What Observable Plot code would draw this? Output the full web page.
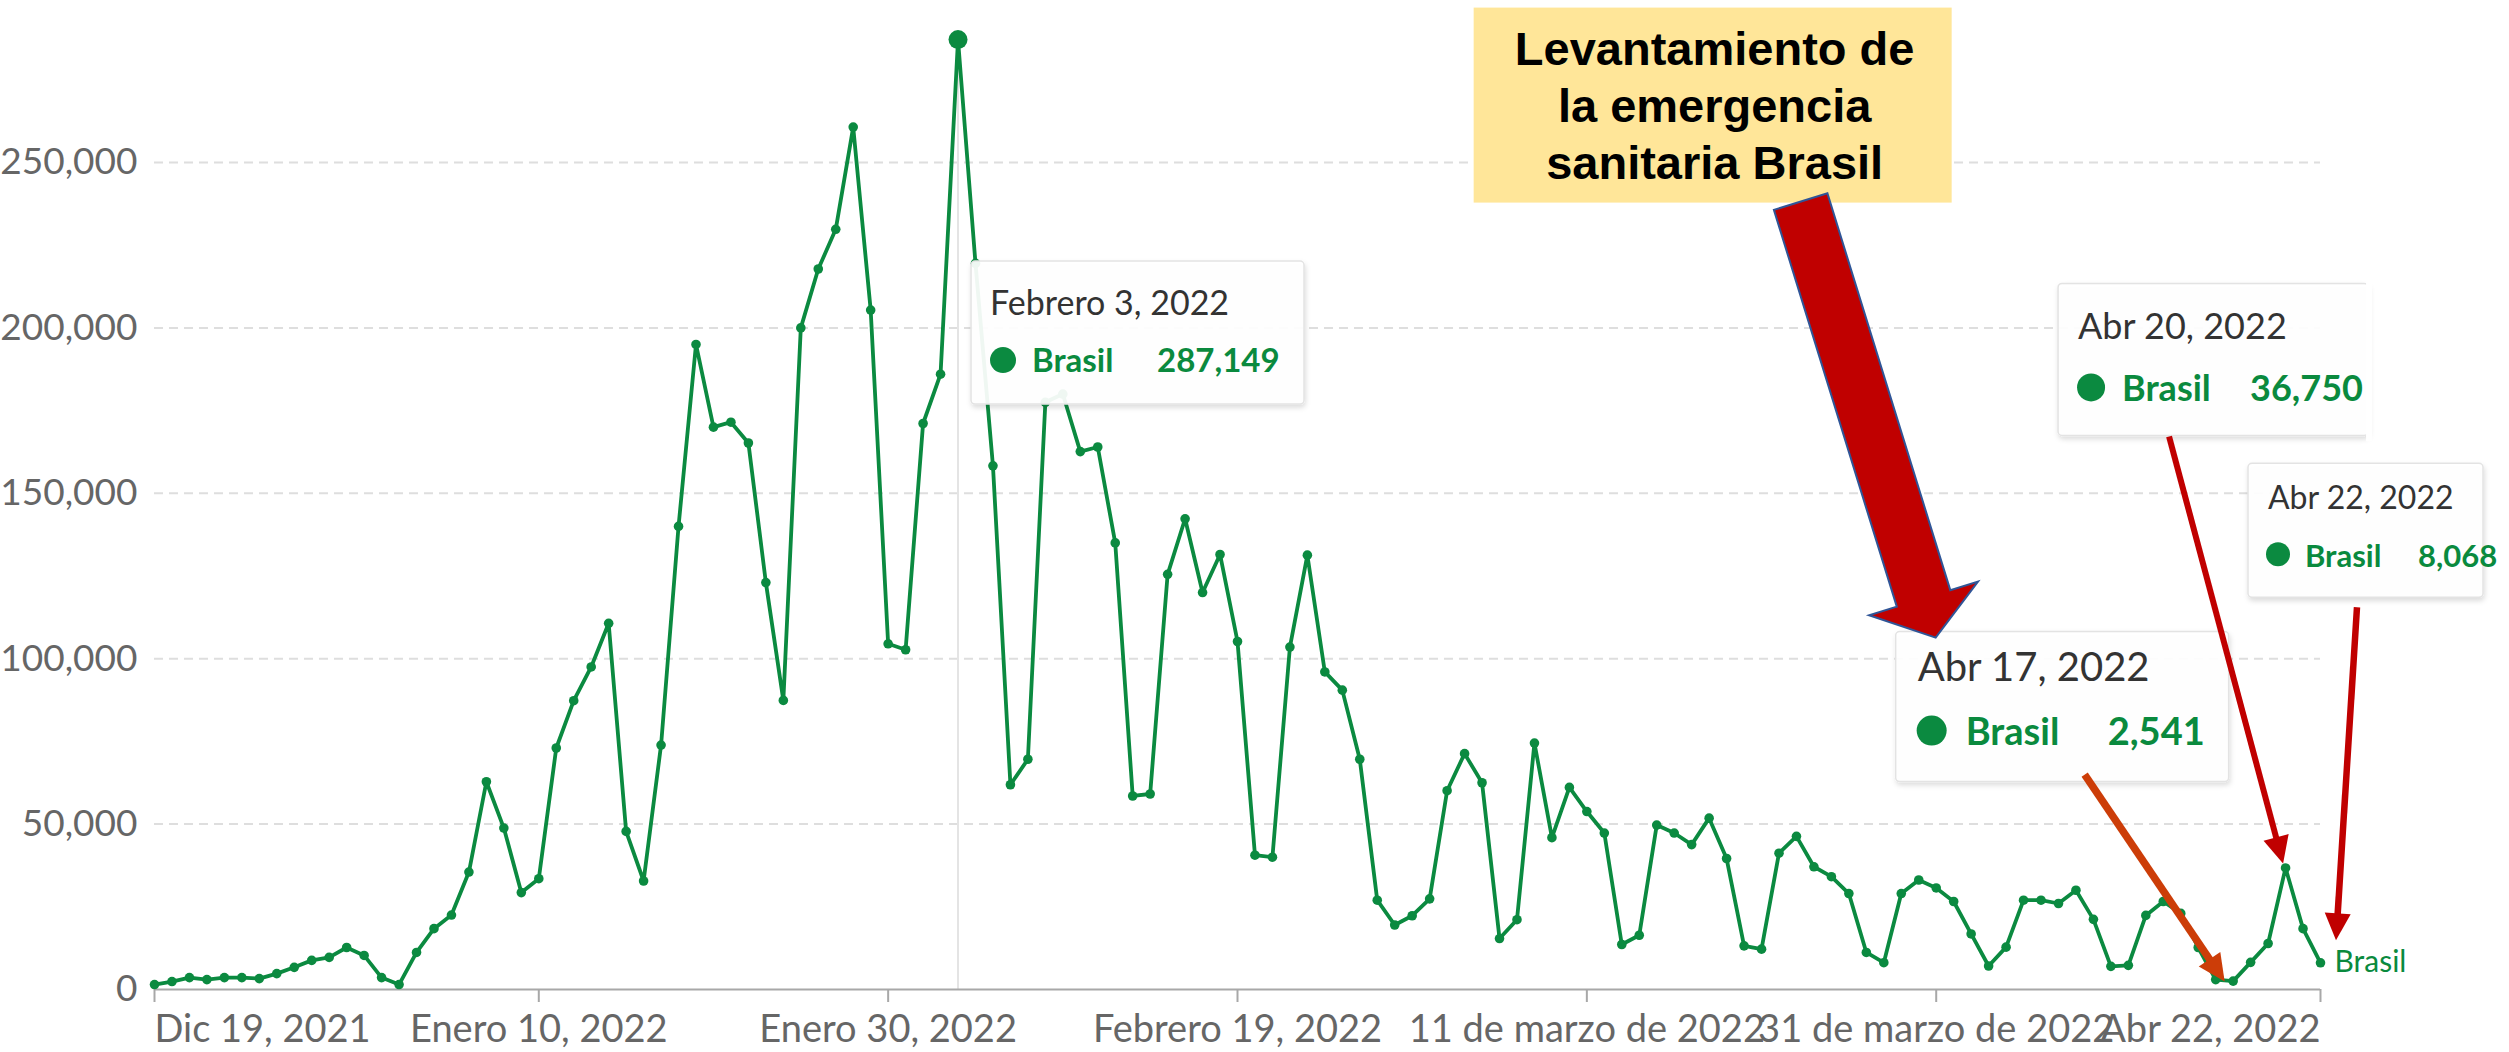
<!DOCTYPE html>
<html>
<head>
<meta charset="utf-8">
<script src="https://cdn.jsdelivr.net/npm/d3@7"></script>
<script src="https://cdn.jsdelivr.net/npm/@observablehq/plot@0.6"></script>
<style>
  html, body { margin: 0; padding: 0; background: #fff; }
  #chart { width: 2509px; height: 1052px; overflow: hidden; }
</style>
</head>
<body>
<div id="chart"></div>
<script>
// ---------- DATA ----------
const startDate = "2021-12-19";
const seriesName = "Brasil";
// Daily new cases, Brasil, Dec 19 2021 -> Apr 22 2022
const cases = [
  1500, 2400, 3600, 3000, 3600, 3600, 3300, 4800, 6700, 8800,
  9700, 12700, 10300, 3600, 1500, 11200, 18400, 22500, 35500, 62800,
  48800, 29300, 33500, 73000, 87300, 97500, 110700, 47800, 32800, 73900,
  140000, 195000, 170000, 171500, 165200, 123000, 87400, 200000, 217800, 229800,
  260700, 205400, 104500, 102700, 171100, 186000, 287149, 219500, 158300, 61900,
  69600, 177500, 180000, 162600, 164000, 135000, 58500, 59100, 125500, 142300,
  120000, 131500, 105200, 40600, 40000, 103500, 131300, 96000, 90500, 69600,
  27000, 19500, 22300, 27400, 60100, 71300, 62500, 15400, 21100, 74500,
  45900, 61100, 53800, 47300, 13600, 16400, 49700, 47300, 43800, 51800,
  39600, 13200, 12200, 41200, 46300, 37100, 34100, 29000, 11200, 8100,
  29000, 33100, 30700, 26600, 16800, 7100, 12800, 27000, 27000, 26000,
  30000, 21200, 7000, 7300, 22400, 26600, 23000, 12700, 3000, 2541,
  8200, 13900, 36750, 18400, 8068
];
const xTickDates = ["2021-12-19", "2022-01-10", "2022-01-30", "2022-02-19", "2022-03-11", "2022-03-31", "2022-04-22"];
const xTickLabels = ["Dic 19, 2021", "Enero 10, 2022", "Enero 30, 2022", "Febrero 19, 2022", "11 de marzo de 2022", "31 de marzo de 2022", "Abr 22, 2022"];
const yTicks = [0, 50000, 100000, 150000, 200000, 250000];
const tooltipDates = ["2022-02-03", "2022-04-17", "2022-04-20", "2022-04-22"];
const tooltipTitles = ["Febrero 3, 2022", "Abr 17, 2022", "Abr 20, 2022", "Abr 22, 2022"];
const calloutLines = ["Levantamiento de", "la emergencia", "sanitaria Brasil"];

// ---------- BUILD ----------
const day0 = new Date(startDate);
const data = cases.map((v, i) => ({date: d3.utcDay.offset(day0, i), value: v}));
const byTime = new Map(data.map(d => [+d.date, d]));
const ticks = xTickDates.map((s, i) => ({date: new Date(s), label: xTickLabels[i]}));
const fmt = d3.format(",");
const green = "#0b8a40";
const textGreen = "#0a8a3e";
const peak = byTime.get(+new Date(tooltipDates[0]));
const last = data[data.length - 1];

const W = 2509, H = 1052, mL = 154, mR = 189, mT = 0, mB = 63;

const chart = Plot.plot({
  width: W, height: H,
  marginLeft: mL, marginRight: mR, marginTop: mT, marginBottom: mB,
  style: {fontFamily: "Lato, 'Open Sans', sans-serif", background: "#fff", overflow: "visible"},
  x: {type: "utc", domain: [data[0].date, last.date], axis: null},
  y: {domain: [0, 298972], axis: null},
  marks: [
    Plot.ruleY(yTicks.filter(d => d > 0), {stroke: "#dedede", strokeWidth: 2, strokeDasharray: "9,6"}),
    Plot.ruleX([peak], {x: "date", y1: 0, y2: "value", stroke: "#e4e4e4", strokeWidth: 2}),
    Plot.ruleY([0], {stroke: "#a8a8a8", strokeWidth: 2}),
    Plot.ruleX(ticks, {x: "date", insetTop: H - mT - mB - 13, dy: 13, stroke: "#a8a8a8", strokeWidth: 2}),
    Plot.text(yTicks, {x: data[0].date, y: d => d, text: d => fmt(d), textAnchor: "end", dx: -17, fontSize: 37, fill: "#666"}),
    Plot.text(ticks.slice(0, 1), {x: "date", y: 0, text: "label", textAnchor: "start", lineAnchor: "bottom", dy: 52, fontSize: 38, fill: "#666"}),
    Plot.text(ticks.slice(1, -1), {x: "date", y: 0, text: "label", textAnchor: "middle", lineAnchor: "bottom", dy: 52, fontSize: 38, fill: "#666"}),
    Plot.text(ticks.slice(-1), {x: "date", y: 0, text: "label", textAnchor: "end", lineAnchor: "bottom", dy: 52, fontSize: 38, fill: "#666"}),
    Plot.line(data, {x: "date", y: "value", stroke: green, strokeWidth: 3.8}),
    Plot.dot(data, {x: "date", y: "value", r: 4.8, fill: green}),
    Plot.dot([peak], {x: "date", y: "value", r: 9.5, fill: green}),
    Plot.text([last], {x: "date", y: "value", text: () => seriesName, textAnchor: "start", dx: 14, fontSize: 30, fill: textGreen})
  ]
});
document.getElementById("chart").appendChild(chart);

// ---------- ANNOTATIONS (positioned from data points through the scales) ----------
const xs = chart.scale("x"), ys = chart.scale("y");
const pt = s => { const d = byTime.get(+new Date(s)); return [xs.apply(d.date), ys.apply(d.value), d]; };
const svg = d3.select(chart);
const defs = svg.append("defs");
const f = defs.append("filter").attr("id", "shadow").attr("x", "-10%").attr("y", "-10%").attr("width", "130%").attr("height", "140%");
f.append("feDropShadow").attr("dx", 1).attr("dy", 3).attr("stdDeviation", 2.5).attr("flood-color", "#000").attr("flood-opacity", 0.14);
const g = svg.append("g").attr("text-anchor", "start");

// tooltip layouts: [box dx, box dy, w, h, title fs, title dx, title dy, dot cx, dot cy, r, name x, value x, row y, row fs, rightOpen]
const tipLayouts = [
  [13.5, 222, 333, 143, 34, 19, 54, 32, 99, 13, 61, 186, 111, 33, false],
  [-337, -349, 333, 150, 40, 22, 49, 36, 99, 15, 70, 212, 113, 38, false],
  [-227, -584, 310, 152, 36, 20, 56, 33, 104, 14, 64, 192, 118, 36, true],
  [-72, -499, 235, 134, 32, 20, 46, 30, 91, 12, 57, 170, 104, 31, false]
];
tooltipDates.forEach((s, k) => {
  const [px, py, d] = pt(s);
  const L = tipLayouts[k];
  const bx = px + L[0], by = py + L[1];
  const tg = g.append("g").attr("transform", `translate(${bx},${by})`);
  tg.append("rect").attr("width", L[2]).attr("height", L[3]).attr("rx", 4)
    .attr("fill", "#fff").attr("fill-opacity", 0.93).attr("stroke", "#e3e3e3").attr("stroke-width", 1.5)
    .attr("filter", "url(#shadow)");
  if (L[14]) tg.append("rect").attr("x", L[2] - 2).attr("y", -2).attr("width", 6).attr("height", L[3] + 8).attr("fill", "#fff");
  tg.append("text").attr("x", L[5]).attr("y", L[6]).attr("font-size", L[4]).attr("fill", "#333").attr("text-anchor", "start")
    .attr("font-family", "Lato, sans-serif").text(tooltipTitles[k]);
  tg.append("circle").attr("cx", L[7]).attr("cy", L[8]).attr("r", L[9]).attr("fill", green);
  tg.append("text").attr("x", L[10]).attr("y", L[12]).attr("font-size", L[13]).attr("font-weight", 700).attr("text-anchor", "start")
    .attr("fill", textGreen).attr("font-family", "Lato, sans-serif").text(seriesName);
  tg.append("text").attr("x", L[11]).attr("y", L[12]).attr("font-size", L[13]).attr("font-weight", 700).attr("text-anchor", "start")
    .attr("fill", textGreen).attr("font-family", "Lato, sans-serif").text(fmt(d.value));
});

function arrow(x1, y1, x2, y2, color, w, headLen, headW) {
  const dx = x2 - x1, dy = y2 - y1, len = Math.hypot(dx, dy), ux = dx / len, uy = dy / len, nx = -uy, ny = ux;
  const bx = x2 - ux * headLen, by = y2 - uy * headLen;
  g.append("line").attr("x1", x1).attr("y1", y1).attr("x2", bx + ux * 2).attr("y2", by + uy * 2)
    .attr("stroke", color).attr("stroke-width", w);
  g.append("polygon").attr("points", [[x2, y2], [bx + nx * headW / 2, by + ny * headW / 2], [bx - nx * headW / 2, by - ny * headW / 2]].map(p => p.join(",")).join(" "))
    .attr("fill", color);
}
// thin arrows: [date, tail dx, tail dy, tip dx, tip dy, color, width]
const thinArrows = [
  ["2022-04-17", -148, -206, -8, 1, "#cc3d08", 7.5],
  ["2022-04-20", -116, -431, -2, -4, "#c00000", 6],
  ["2022-04-22", 37, -355, 16, -22, "#c00000", 6.5]
];
thinArrows.forEach(([s, tx, ty, hx, hy, c, w]) => {
  const [px, py] = pt(s);
  arrow(px + tx, py + ty, px + hx, py + hy, c, w, 27, 26);
});

// callout box + block arrow anchored on Apr 17
{
  const [px, py] = pt("2022-04-17");
  const cx = px - 759, cy = py - 973, cw = 478, ch = 195;
  g.append("rect").attr("x", cx).attr("y", cy).attr("width", cw).attr("height", ch).attr("fill", "#ffe699");
  calloutLines.forEach((t, i) => {
    g.append("text").attr("x", cx + cw / 2 + 2).attr("y", cy + 57 + i * 57).attr("text-anchor", "middle")
      .attr("font-family", "Arial, 'Liberation Sans', sans-serif").attr("font-weight", 700).attr("font-size", 47)
      .attr("fill", "#000").text(t);
  });
  const T = [px - 432, py - 779], P = [px - 297, py - 343];
  const dx = P[0] - T[0], dy = P[1] - T[1], len = Math.hypot(dx, dy), u = [dx / len, dy / len], n = [-u[1], u[0]];
  const sw = 28, hw = 57, hl = 41;
  const B = [P[0] - u[0] * hl, P[1] - u[1] * hl];
  const pts = [
    [T[0] + n[0] * sw, T[1] + n[1] * sw], [B[0] + n[0] * sw, B[1] + n[1] * sw], [B[0] + n[0] * hw, B[1] + n[1] * hw],
    P, [B[0] - n[0] * hw, B[1] - n[1] * hw], [B[0] - n[0] * sw, B[1] - n[1] * sw], [T[0] - n[0] * sw, T[1] - n[1] * sw]
  ];
  g.append("polygon").attr("points", pts.map(p => p.join(",")).join(" "))
    .attr("fill", "#c00000").attr("stroke", "#2f5597").attr("stroke-width", 2);
}
</script>
</body>
</html>
